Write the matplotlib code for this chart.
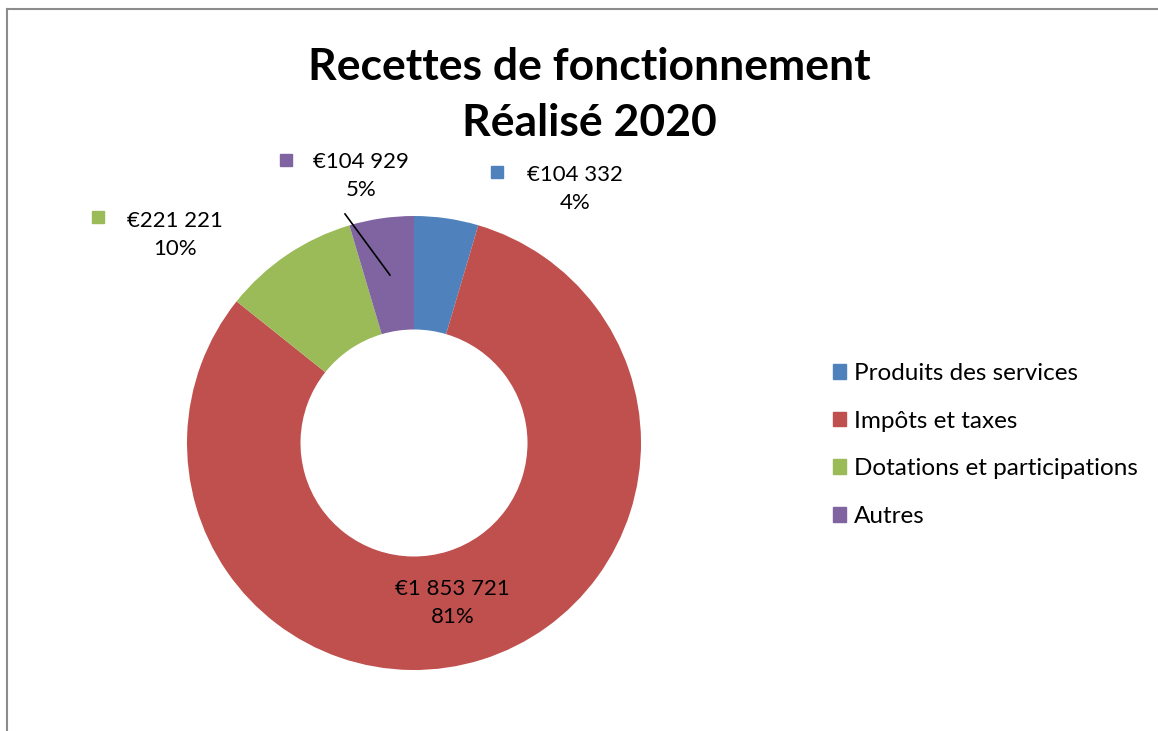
import matplotlib.pyplot as plt
from matplotlib.lines import Line2D

plt.rcParams['font.family'] = ['Lato', 'DejaVu Sans']

# data
categories = ['Produits des services', 'Impôts et taxes',
              'Dotations et participations', 'Autres']
values = [104332, 1853721, 221221, 104929]
value_labels = ['€104 332', '€1 853 721', '€221 221', '€104 929']
pct_labels = ['4%', '81%', '10%', '5%']
colors = ['#4F81BD', '#C0504D', '#9BBB59', '#8064A2']

# label layout (pie radius = 1)
text_pos = [(0.71, 1.12), (0.17, -0.705), (-1.053, 0.916), (-0.233, 1.176)]
key_pos = [(0.366, 1.194), None, (-1.392, 0.996), (-0.564, 1.247)]

W, H = 1158, 731
fig = plt.figure(figsize=(W / 100, H / 100), dpi=100)

cx, cy, r = 414, 443, 227
ax = fig.add_axes([(cx - r) / W, (H - cy - r) / H, 2 * r / W, 2 * r / H])
wedges, _ = ax.pie(values, colors=colors, startangle=90, counterclock=False,
                   radius=1, wedgeprops=dict(width=0.5, linewidth=0))
ax.set_xlim(-1, 1)
ax.set_ylim(-1, 1)
ax.axis('off')

for i in range(len(values)):
    tx, ty = text_pos[i]
    ax.text(tx, ty, value_labels[i] + '\n' + pct_labels[i], ha='center', va='center',
            fontsize=16, linespacing=1.5, color='black', clip_on=False)
    if key_pos[i] is not None:
        ax.plot(key_pos[i][0], key_pos[i][1], marker='s', markersize=9,
                color=colors[i], clip_on=False, linestyle='none')

# leader line for "Autres"
ax.plot([-0.304, -0.106], [1.009, 0.740], color='black', lw=1.2, clip_on=False)

fig.text(589 / W, 1 - 95 / H, 'Recettes de fonctionnement\nRéalisé 2020',
         ha='center', va='center', fontsize=32, fontweight='bold', linespacing=1.5)

handles = [plt.Rectangle((0, 0), 1, 1, color=c) for c in colors]
fig.legend(handles, categories, loc='center left',
           bbox_to_anchor=(833 / W, 1 - 445 / H), frameon=False,
           fontsize=17.5, handlelength=0.55, handleheight=0.55,
           handletextpad=0.3, labelspacing=1.1, borderpad=0, borderaxespad=0)

# chart frame (only left and top edges are visible)
fig.add_artist(Line2D([7 / W, 7 / W], [0, 1 - 9 / H], color='#8c8c8c', lw=1.5))
fig.add_artist(Line2D([7 / W, 1], [1 - 9 / H, 1 - 9 / H], color='#8c8c8c', lw=1.5))

fig.savefig('out.png', dpi=100)
